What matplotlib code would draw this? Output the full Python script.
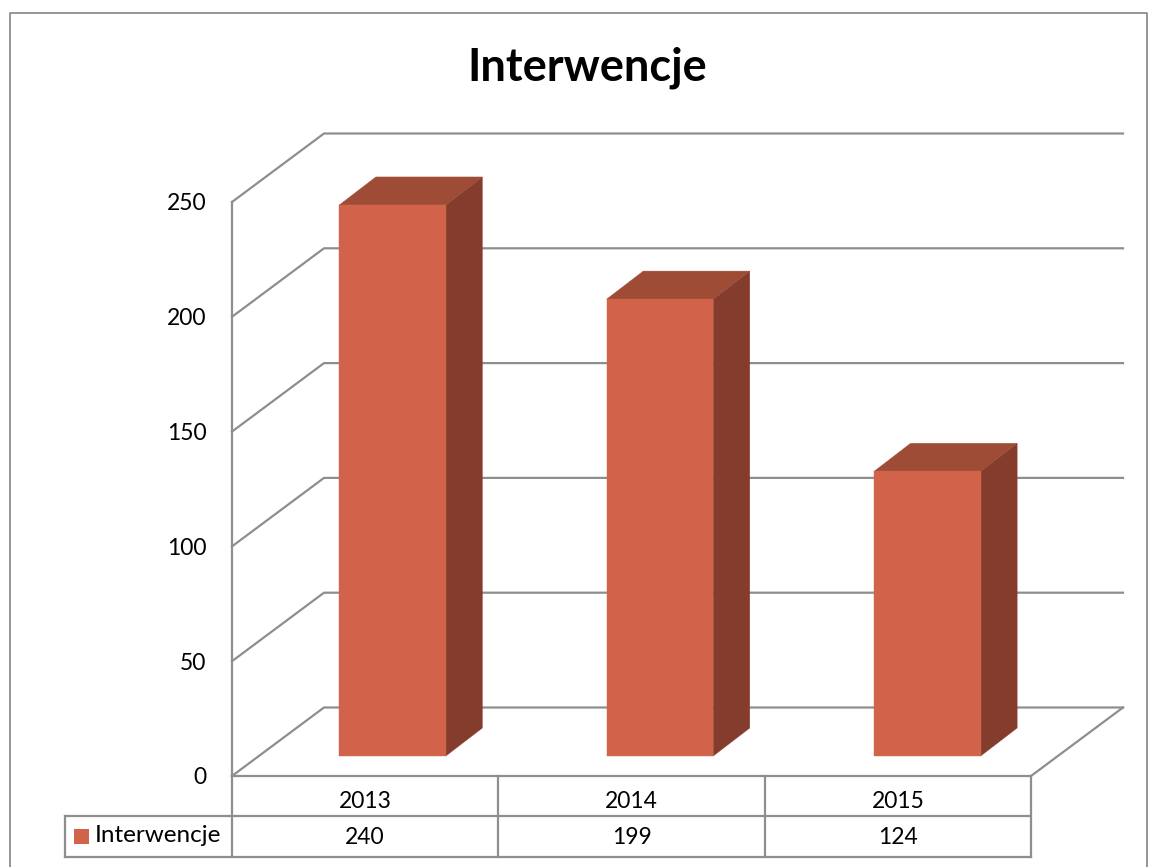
import matplotlib
matplotlib.use("Agg")
from matplotlib import pyplot as plt
from matplotlib.patches import Polygon, Rectangle

plt.rcParams['font.family'] = ['Lato', 'DejaVu Sans']

# dane
years = ["2013", "2014", "2015"]
values = [240, 199, 124]
y_ticks = [0, 50, 100, 150, 200, 250]
series_name = "Interwencje"

# kolory
FRONT = "#d0634a"
TOP = "#9f4c37"
SIDE = "#843c2d"
LINE = "#8e8e8e"

W, H = 1150, 867
# przednia plaszczyzna wykresu w pikselach
LEFT, RIGHT, BOTTOM, TOP_PX = 232, 1031, 776, 202

# przesuniecie glebokosci w jednostkach osi
px_x = (RIGHT - LEFT) / len(years)
px_y = (BOTTOM - TOP_PX) / y_ticks[-1]
DEPTH_X = 92 / px_x
DEPTH_Y = 68.5 / px_y
BAR_DX = 36.5 / px_x
BAR_DY = 28 / px_y
BAR_BASE = 20 / px_y
BAR_W = 106.5 / px_x
BAR_SHIFT = 0.603
BAR_STEP = 1.004

fig = plt.figure(figsize=(W / 100, H / 100), dpi=100)

# warstwa w pikselach: ramka i tabela
bg = fig.add_axes([0, 0, 1, 1])
bg.set_xlim(0, W)
bg.set_ylim(H, 0)
bg.axis("off")
bg.plot([10, 10, 1147, 1147], [H, 13, 13, H], color=LINE, lw=1.3)

# tabela danych pod wykresem
col_x = [LEFT + px_x * i for i in range(len(years) + 1)]
row_y = [BOTTOM, 816, 857]
for x in col_x:
    bg.plot([x, x], [row_y[0], row_y[2]], color=LINE, lw=1.6)
bg.plot([65, RIGHT], [row_y[1], row_y[1]], color=LINE, lw=1.6)
bg.plot([65, RIGHT], [row_y[2], row_y[2]], color=LINE, lw=1.6)
bg.plot([65, 65], [row_y[1], row_y[2]], color=LINE, lw=1.6)
bg.add_patch(Rectangle((74, 829), 15, 15, color=FRONT, lw=0))
bg.text(95, 836, series_name, fontsize=17.5, ha="left", va="center", color="black")
for i, year in enumerate(years):
    cx = (col_x[i] + col_x[i + 1]) / 2
    bg.text(cx, 801, year, fontsize=16.5, ha="center", va="center", color="black")
    bg.text(cx, 838, str(values[i]), fontsize=16.5, ha="center", va="center", color="black")
bg.text(587, 68, series_name, fontsize=32.5, fontweight="bold", ha="center", va="center", color="black")

# wlasciwy wykres
ax = fig.add_axes([LEFT / W, 1 - BOTTOM / H, (RIGHT - LEFT) / W, (BOTTOM - TOP_PX) / H])
ax.patch.set_visible(False)
ax.set_xlim(0, len(years))
ax.set_ylim(0, y_ticks[-1])
for s in ax.spines.values():
    s.set_visible(False)
ax.set_xticks([])
ax.set_yticks(y_ticks)
ax.tick_params(axis="y", length=0, labelsize=16.5, pad=18.5)

# sciana tylna, boczna i podloga
x_end = len(years) + DEPTH_X
for t in y_ticks:
    ax.plot([0, DEPTH_X, x_end], [t, t + DEPTH_Y, t + DEPTH_Y], color=LINE, lw=1.6, clip_on=False, zorder=1)
ax.plot([0, 0], [0, y_ticks[-1]], color=LINE, lw=1.6, clip_on=False, zorder=1)
ax.plot([0, len(years), x_end], [0, 0, DEPTH_Y], color=LINE, lw=1.6, clip_on=False, zorder=1)

# slupki: przod, gora, bok
for i, v in enumerate(values):
    xc = BAR_SHIFT + i * BAR_STEP
    x0 = xc - BAR_W / 2
    x1 = x0 + BAR_W
    y0 = BAR_BASE
    y1 = BAR_BASE + v
    ax.add_patch(Polygon([(x1, y0), (x1 + BAR_DX, y0 + BAR_DY), (x1 + BAR_DX, y1 + BAR_DY), (x1, y1)],
                         facecolor=SIDE, edgecolor=SIDE, lw=0.3, zorder=3, clip_on=False))
    ax.add_patch(Polygon([(x0, y1), (x1, y1), (x1 + BAR_DX, y1 + BAR_DY), (x0 + BAR_DX, y1 + BAR_DY)],
                         facecolor=TOP, edgecolor=TOP, lw=0.3, zorder=3, clip_on=False))
    ax.bar(xc, v, width=BAR_W, bottom=BAR_BASE, facecolor=FRONT, edgecolor=FRONT, linewidth=0.3, zorder=4, clip_on=False)

plt.savefig("out.png", dpi=100)
